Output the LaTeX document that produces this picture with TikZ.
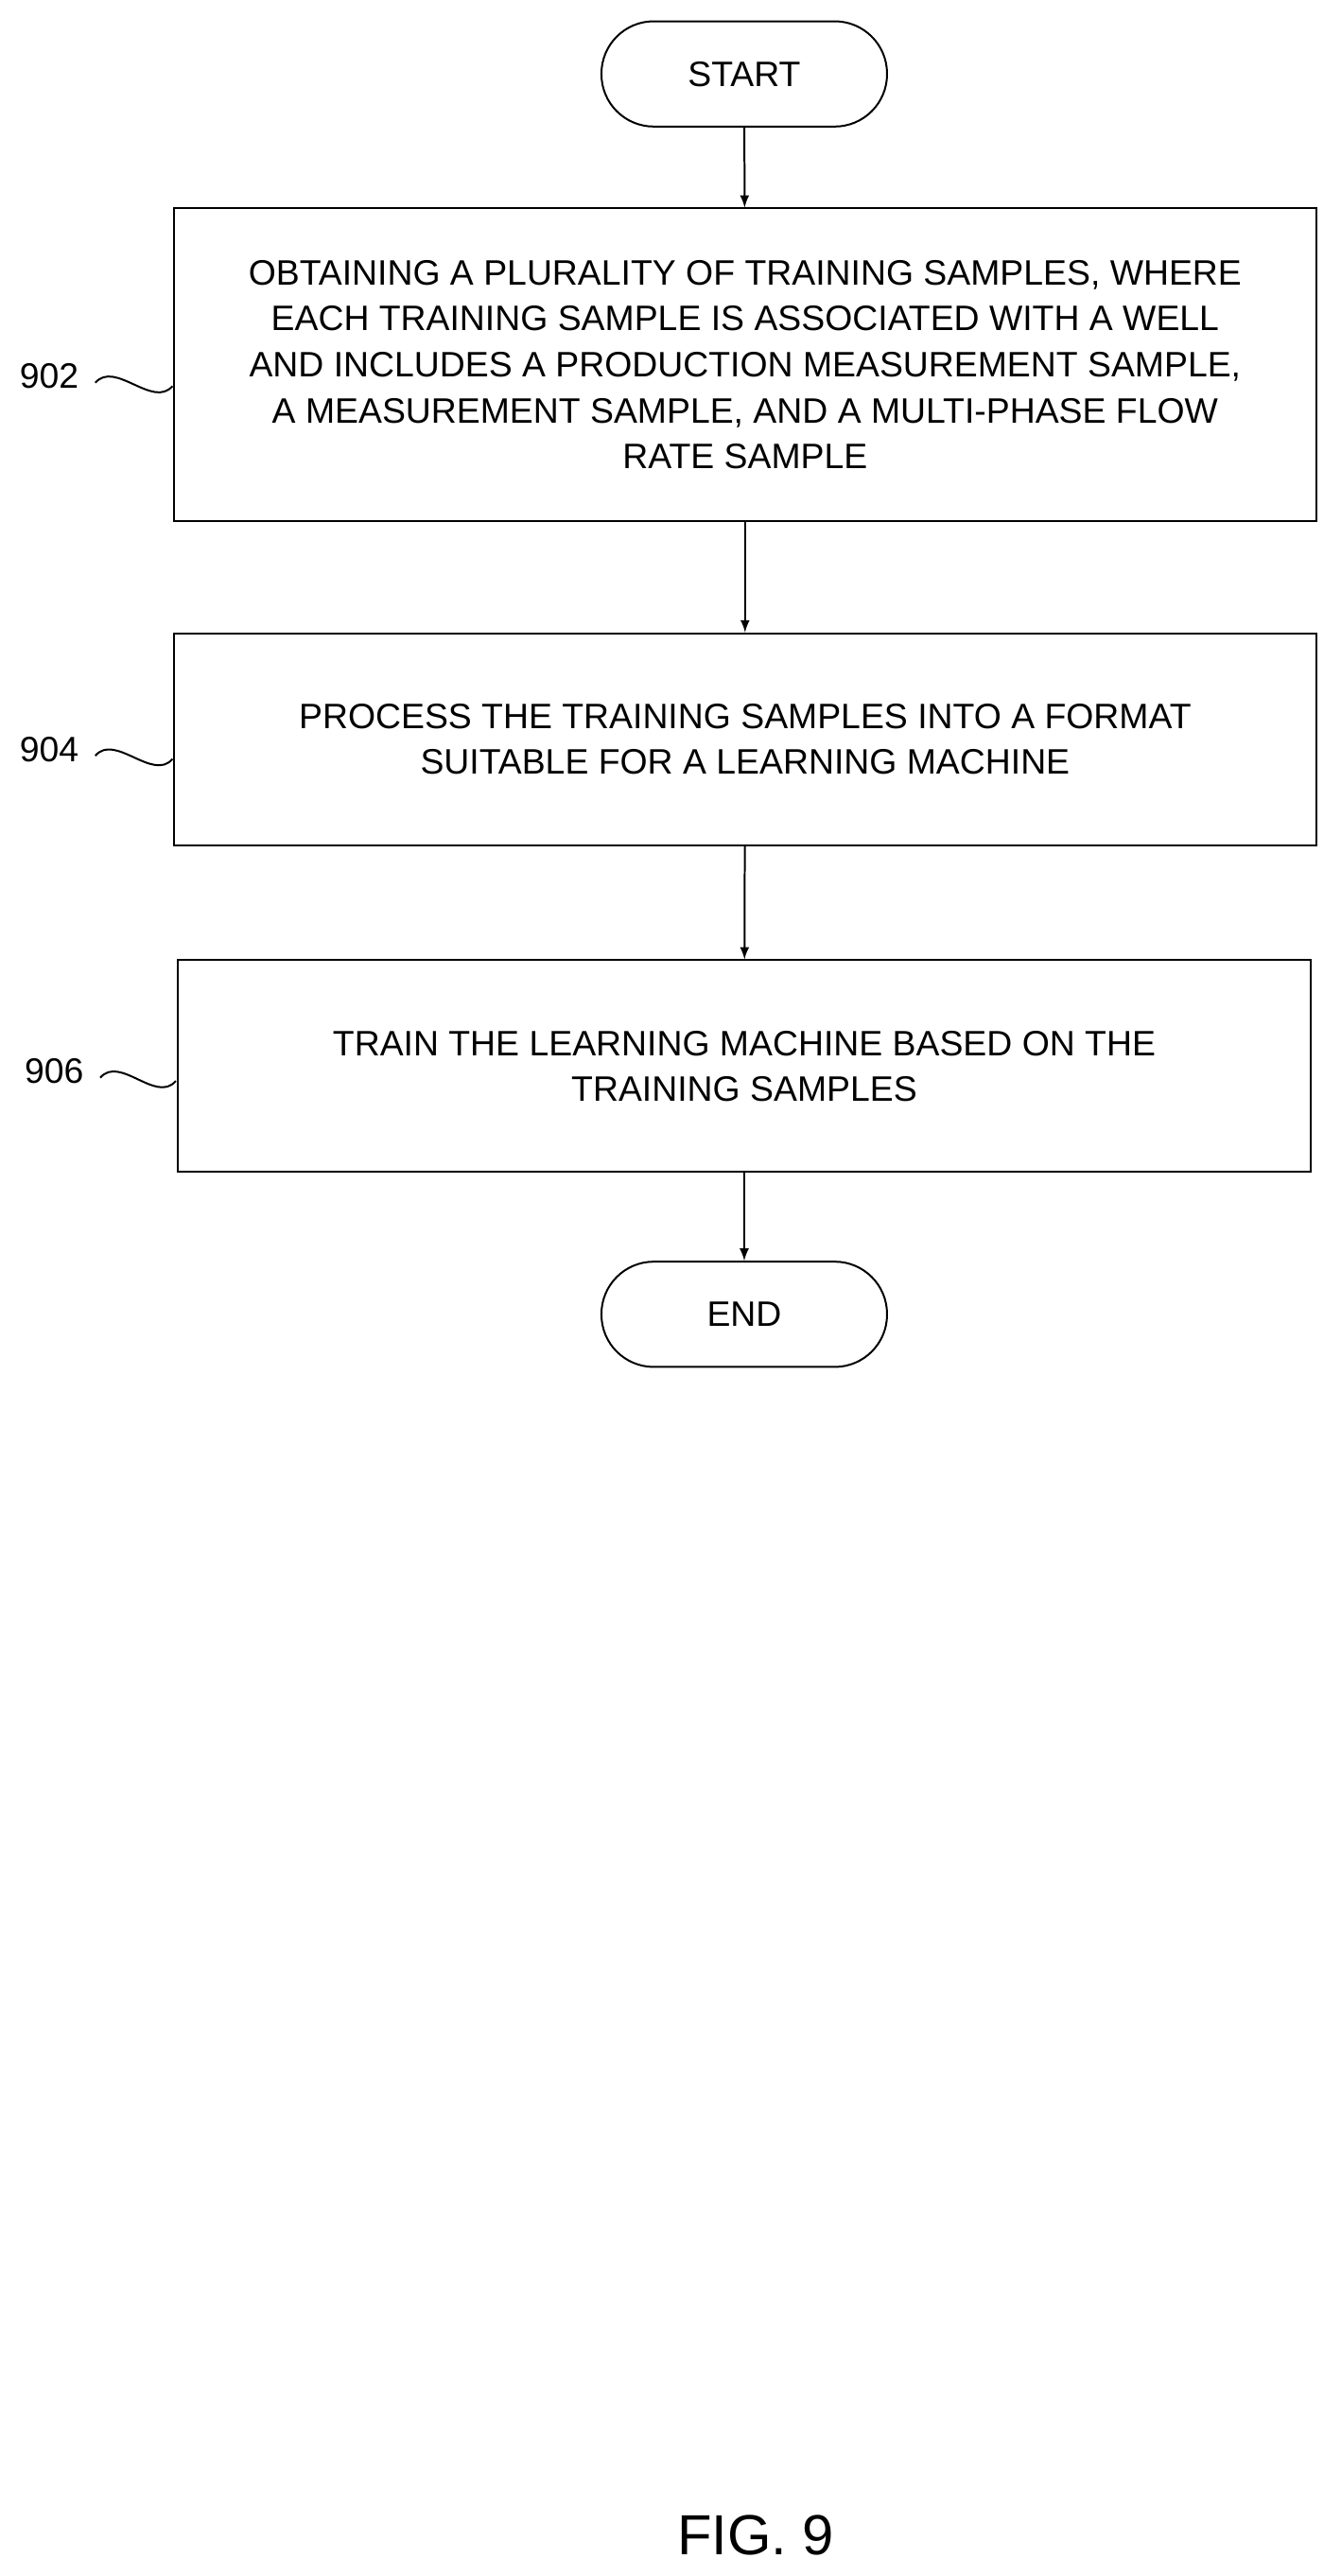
\documentclass[tikz,border=0pt]{standalone}
\usepackage{fontspec}
\setmainfont{Liberation Sans}
\usetikzlibrary{arrows}

\tikzset{
  stepbox/.style={draw, thick, minimum width=17.03cm, align=center, font=\fontsize{15}{19.5}\selectfont},
  term/.style={draw, thick, rounded corners=0.78cm, minimum width=4.26cm, minimum height=1.57cm, font=\fontsize{15}{19.5}\selectfont},
  ref/.style={font=\fontsize{15}{18}\selectfont},
  flow/.style={thick, -latex}
}

\begin{document}
\begin{tikzpicture}[x=0.0245cm, y=-0.0245cm]
  \useasboundingbox (0, 0) rectangle (816, 1568);

  \node[term] (start) at (453, 45) {START};
  \node[stepbox, minimum height=4.66cm] (s902) at (453.5, 222) {OBTAINING A PLURALITY OF TRAINING SAMPLES, WHERE\\EACH TRAINING SAMPLE IS ASSOCIATED WITH A WELL\\AND INCLUDES A PRODUCTION MEASUREMENT SAMPLE,\\A MEASUREMENT SAMPLE, AND A MULTI-PHASE FLOW\\RATE SAMPLE};
  \node[stepbox, minimum height=3.16cm] (s904) at (453.5, 450) {PROCESS THE TRAINING SAMPLES INTO A FORMAT\\SUITABLE FOR A LEARNING MACHINE};
  \node[stepbox, minimum height=3.16cm, minimum width=16.9cm] (s906) at (453, 649) {TRAIN THE LEARNING MACHINE BASED ON THE\\TRAINING SAMPLES};
  \node[term] (end) at (453, 800) {END};

  \node[ref] (l902) at (30, 229) {902};
  \node[ref] (l904) at (30, 456) {904};
  \node[ref] (l906) at (33, 652) {906};

  \coordinate (w902) at (105, 235);
  \coordinate (w904) at (105, 462);
  \coordinate (w906) at (107, 658);

  \draw[thick] (l902.east) ++(5, 4) .. controls +(12, -14) and +(-12, 14) .. (w902);
  \draw[thick] (l904.east) ++(5, 4) .. controls +(12, -14) and +(-12, 14) .. (w904);
  \draw[thick] (l906.east) ++(5, 4) .. controls +(12, -14) and +(-12, 14) .. (w906);

  \draw[flow] (start) -- (s902);
  \draw[flow] (s902) -- (s904);
  \draw[flow] (s904) -- (s906);
  \draw[flow] (s906) -- (end);

  \node[font=\fontsize{24}{28}\selectfont] (fig) at (460, 1543) {FIG. 9};
\end{tikzpicture}
\end{document}
